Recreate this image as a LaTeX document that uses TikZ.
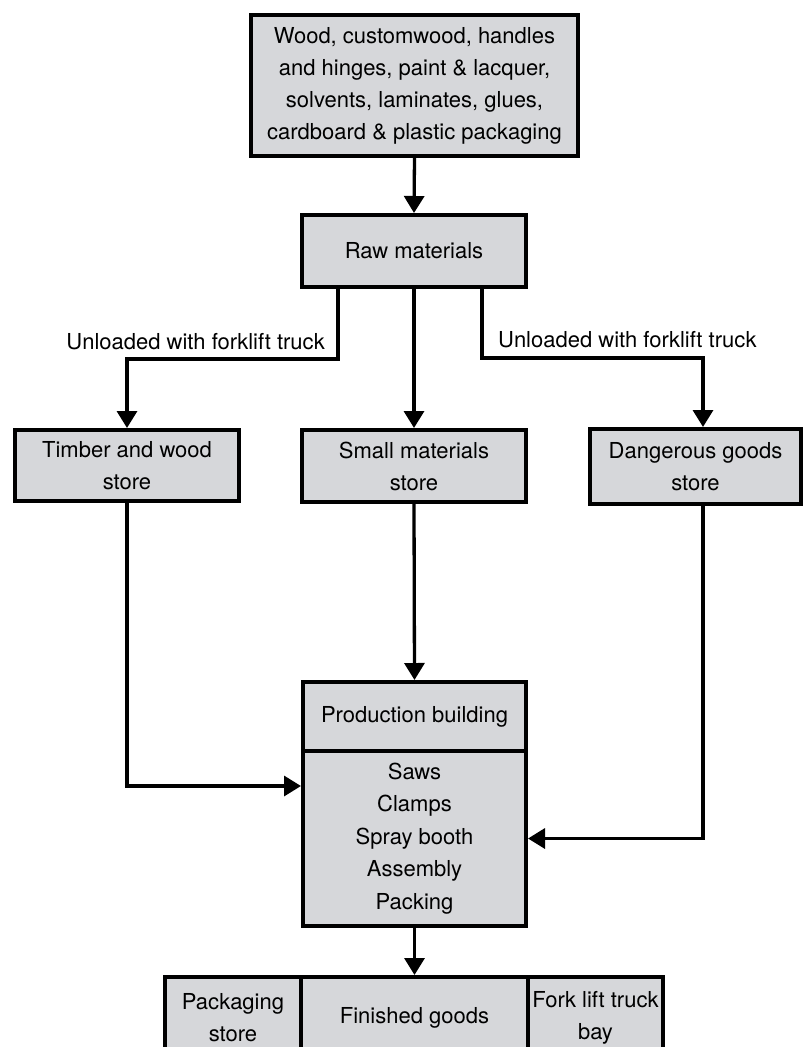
\documentclass[tikz,border=0pt]{standalone}
\usepackage{fontspec}
\setmainfont{TeX Gyre Heros}
\usetikzlibrary{arrows.meta}
\definecolor{boxgrey}{RGB}{214,215,218}
\newcommand{\flowfont}{\fontsize{22pt}{32pt}\selectfont}
\tikzset{
  box/.style={draw, line width=4pt, fill=boxgrey, inner sep=0pt, align=center, font=\flowfont},
  link/.style={line width=3.3pt, -{Triangle[length=17pt,width=20pt]}},
  note/.style={inner sep=0pt, font=\flowfont},
}
\begin{document}
\begin{tikzpicture}[x=1pt, y=-1pt]
      \clip (0,0) rectangle (806,1047);
      % boxes
      \node [box, minimum width=327pt, minimum height=141pt] (src) at (414.5,85.5)
        {Wood, customwood, handles\\and hinges, paint \& lacquer,\\solvents, laminates, glues,\\cardboard \& plastic packaging};
      \node [box, minimum width=224pt, minimum height=72pt] (raw) at (414,251) {Raw materials};
      \node [box, minimum width=224pt, minimum height=71pt] (timber) at (127,465.5) {Timber and wood\\store};
      \node [box, minimum width=224pt, minimum height=72pt] (small) at (414,466) {Small materials\\store};
      \node [box, minimum width=211pt, minimum height=75pt] (danger) at (695.5,466.5) {Dangerous goods\\store};
      \node [box, minimum width=223pt, minimum height=69pt] (prodhead) at (414.5,716.5) {Production building};
      \node [box, minimum width=223pt, minimum height=175pt, font=\fontsize{22pt}{32.5pt}\selectfont] (prodbody) at (414.5,838.5)
        {Saws\\Clamps\\Spray booth\\Assembly\\Packing};
      \node [box, minimum width=136pt, minimum height=82pt] (pack) at (233,1018) {Packaging\\store};
      \node [box, minimum width=227pt, minimum height=82pt] (fin) at (414.5,1018) {Finished goods};
      \node [box, minimum width=135pt, minimum height=82pt] (fork) at (595.5,1018) {Fork lift truck\\bay};
      % connectors
      \draw [link] (src.south) -- (raw.north);
      \draw [link] ([xshift=-76pt]raw.south) -- ++(0,70) coordinate (ljoin) -| (timber.north);
      \draw [link] (raw.south) -- (small.north);
      \draw [link] ([xshift=68pt]raw.south) -- ++(0,69) coordinate (rjoin) -| ([xshift=7.5pt]danger.north);
      \draw [link] (small.south) -- (prodhead.north);
      \draw [link] (timber.south) |- ([yshift=52.5pt]prodbody.west);
      \draw [link] ([xshift=7.5pt]danger.south) |- (prodbody.east);
      \draw [link] (prodbody.south) -- (fin.north);
      % labels
      \node [note, anchor=base east] (lnote) at ([xshift=-13pt,yshift=10pt]ljoin) {Unloaded with forklift truck};
      \node [note, anchor=base west] (rnote) at ([xshift=16pt,yshift=11pt]rjoin) {Unloaded with forklift truck};
\end{tikzpicture}
\end{document}
